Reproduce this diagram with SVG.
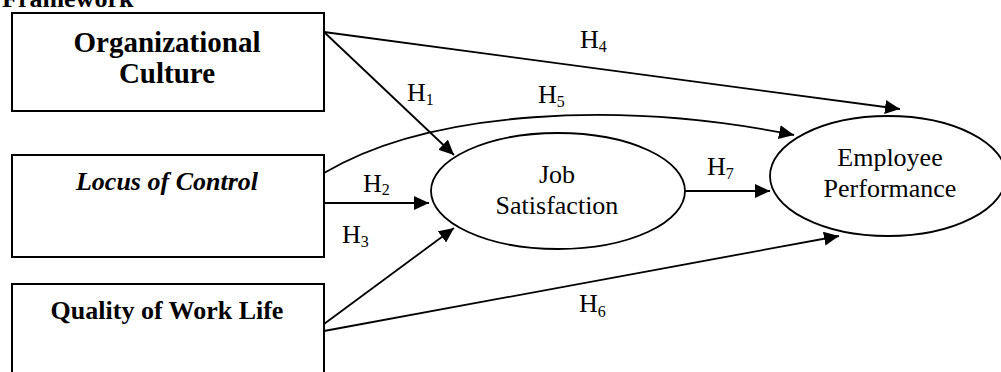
<svg xmlns="http://www.w3.org/2000/svg" width="1001" height="372" viewBox="0 0 1001 372">
<style>
.box{fill:#fff;stroke:#000;stroke-width:2}
.ell{fill:#fff;stroke:#000;stroke-width:1.8}
.ln{fill:none;stroke:#000;stroke-width:1.8}
.bt{font-family:'Liberation Serif','DejaVu Serif',serif;font-weight:bold;text-anchor:middle;fill:#000}
.rt{font-family:'Liberation Serif','DejaVu Serif',serif;font-size:26px;text-anchor:middle;fill:#000}
.h{font-family:'Liberation Serif','DejaVu Serif',serif;font-size:26px;fill:#000}
.sub{font-size:16px}
</style>
<defs>
<marker id="arr" markerUnits="userSpaceOnUse" markerWidth="15" markerHeight="14" refX="15" refY="7" orient="auto">
<path d="M0,0 L15,7 L0,14 z" fill="#000"/>
</marker>
</defs>
<text x="2" y="7" font-family="'Liberation Serif','DejaVu Serif',serif" font-weight="bold" font-size="26">Framework</text>
<g id="node-org-culture">
<rect class="box" x="12" y="13" width="312" height="98"/>
<text class="bt" x="167" y="52" font-size="29">Organizational</text>
<text class="bt" x="167" y="83" font-size="29">Culture</text>
</g>
<g id="node-locus">
<rect class="box" x="12" y="155" width="312" height="102"/>
<text class="bt" x="167" y="190" font-size="26" font-style="italic">Locus of Control</text>
</g>
<g id="node-qwl">
<rect class="box" x="12" y="284" width="312" height="110"/>
<text class="bt" x="167" y="319" font-size="26">Quality of Work Life</text>
</g>
<g id="node-job-satisfaction">
<ellipse class="ell" cx="558" cy="191" rx="127" ry="58"/>
<text class="rt" x="557" y="183">Job</text>
<text class="rt" x="557" y="214">Satisfaction</text>
</g>
<g id="node-employee-performance">
<ellipse class="ell" cx="888" cy="176" rx="118" ry="60"/>
<text class="rt" x="890" y="166">Employee</text>
<text class="rt" x="890" y="197">Performance</text>
</g>
<g id="connectors">
<line class="ln" x1="324" y1="32" x2="900" y2="109" marker-end="url(#arr)"/>
<line class="ln" x1="324" y1="32" x2="454" y2="155" marker-end="url(#arr)"/>
<path class="ln" d="M324,173 C430,110 620,100 794,135" marker-end="url(#arr)"/>
<line class="ln" x1="324" y1="203" x2="429" y2="203" marker-end="url(#arr)"/>
<line class="ln" x1="324" y1="324" x2="454" y2="228" marker-end="url(#arr)"/>
<line class="ln" x1="324" y1="331" x2="839" y2="236" marker-end="url(#arr)"/>
<line class="ln" x1="685" y1="191" x2="770" y2="191" marker-end="url(#arr)"/>
<text class="h" x="580" y="48">H<tspan class="sub" dy="4">4</tspan></text>
<text class="h" x="407" y="101">H<tspan class="sub" dy="4">1</tspan></text>
<text class="h" x="538" y="103">H<tspan class="sub" dy="4">5</tspan></text>
<text class="h" x="363" y="192">H<tspan class="sub" dy="3">2</tspan></text>
<text class="h" x="342" y="243">H<tspan class="sub" dy="4">3</tspan></text>
<text class="h" x="707" y="175">H<tspan class="sub" dy="4">7</tspan></text>
<text class="h" x="579" y="312">H<tspan class="sub" dy="5">6</tspan></text>
</g>
</svg>
